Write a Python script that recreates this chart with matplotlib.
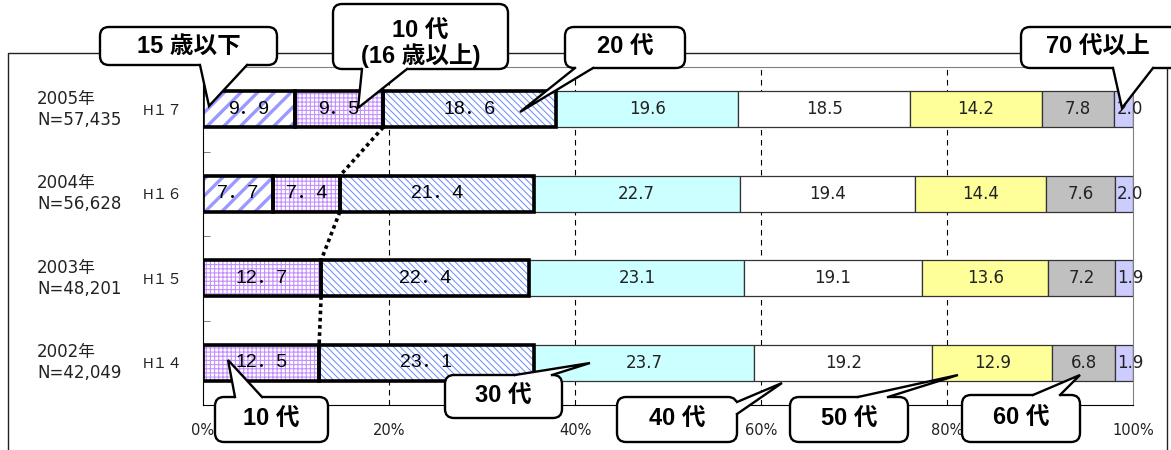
import matplotlib.pyplot as plt
import matplotlib.transforms as mtransforms
import numpy as np
from matplotlib.lines import Line2D
from matplotlib.patches import FancyBboxPatch, Polygon

plt.rcParams['font.family'] = ['Liberation Sans', 'Noto Sans CJK JP']
WIDE = ['DejaVu Sans', 'Noto Sans CJK JP']

years = ['2005年', '2004年', '2003年', '2002年']
counts = ['N=57,435', 'N=56,628', 'N=48,201', 'N=42,049']
era = ['H１７', 'H１６', 'H１５', 'H１４']

# share (%) per age group, rows 2005 -> 2002
under15 = [9.9, 7.7, 0.0, 0.0]
teens = [9.5, 7.4, 12.7, 12.5]
twenties = [18.6, 21.4, 22.4, 23.1]
thirties = [19.6, 22.7, 23.1, 23.7]
forties = [18.5, 19.4, 19.1, 19.2]
fifties = [14.2, 14.4, 13.6, 12.9]
sixties = [7.8, 7.6, 7.2, 6.8]
seventies = [2.0, 2.0, 1.9, 1.9]

vals = np.array([under15, teens, twenties, thirties, forties, fifties, sixties, seventies])
share = vals / vals.sum(axis=0) * 100   # 100% stacked
lefts = np.vstack([np.zeros(4), np.cumsum(share, axis=0)[:-1]])
ypos = np.array([3, 2, 1, 0])
h = 0.425

# face, hatch, hatch colour, hatch lw
styles = [
    ('white', '//', '#9999FF', 2.4),
    ('white', '++++', '#C490FF', 0.8),
    ('white', '\\\\\\\\\\', '#6688FF', 0.7),
    ('#CCFFFF', None, None, 0),
    ('white', None, None, 0),
    ('#FFFF99', None, None, 0),
    ('#C0C0C0', None, None, 0),
    ('#CCCCFF', None, None, 0),
]

W, H, DPI = 1171, 450, 100
fig = plt.figure(figsize=(W / DPI, H / DPI), dpi=DPI)
ax = fig.add_axes([203 / W, 1 - 405 / H, 930 / W, 338 / H])
pix = mtransforms.Affine2D().scale(1 / DPI).scale(1, -1).translate(0, H / DPI) + fig.dpi_scale_trans

ax.vlines([20, 40, 60, 80], -0.5, 3.5, colors='black', linestyles=(0, (5, 4)), lw=0.8, zorder=1)

for i, (face, hatch, hcol, hlw) in enumerate(styles):
    m = vals[i] > 0
    if hatch:
        with plt.rc_context({'hatch.linewidth': hlw}):
            bars = ax.barh(ypos[m], share[i][m], left=lefts[i][m], height=h, color=face,
                           edgecolor=hcol, hatch=hatch, linewidth=0, zorder=2)
        for b in bars:
            if hasattr(b, 'set_hatch_linewidth'):
                b.set_hatch_linewidth(hlw)
        ax.barh(ypos[m], share[i][m], left=lefts[i][m], height=h, fill=False,
                edgecolor='black', linewidth=2.6, zorder=3)
    else:
        ax.barh(ypos[m], share[i][m], left=lefts[i][m], height=h, color=face,
                edgecolor='#333333', linewidth=0.9, zorder=2)
    for j in np.where(m)[0]:
        v = vals[i][j]
        cx = lefts[i][j] + share[i][j] / 2
        if i < 3:
            ax.text(cx, ypos[j], f'{v:.1f}'.replace('.', '．'), ha='center', va='center',
                    fontsize=14, color='black', zorder=4)
        elif i == 7:
            ax.text(lefts[i][j] + 0.2, ypos[j], f'{v:.1f}', ha='left', va='center',
                    fontsize=12, color='#222222', zorder=4, family=WIDE)
        else:
            ax.text(cx, ypos[j], f'{v:.1f}', ha='center', va='center',
                    fontsize=12, color='#222222', zorder=4, family=WIDE)

# series line for the 10代 boundary
cum_teen = lefts[2]
for j in range(3):
    ax.plot([cum_teen[j], cum_teen[j + 1]], [ypos[j] - h / 2, ypos[j + 1] + h / 2],
            color='black', lw=2.6, ls=(0, (1, 1)), zorder=3)

ax.set_xlim(0, 100)
ax.set_ylim(-0.5, 3.5)
ax.set_xticks([0, 20, 40, 60, 80, 100], ['0%', '20%', '40%', '60%', '80%', '100%'])
ax.tick_params(axis='x', length=0, pad=13, labelsize=10.5, labelcolor='#222222')
for t in ax.get_xticklabels():
    t.set_family(WIDE)
ax.set_yticks(ypos, era)
ax.tick_params(axis='y', length=0, pad=15, labelsize=10.5, labelcolor='#222222')
ax.set_yticks([0.5, 1.5, 2.5], minor=True)
ax.tick_params(axis='y', which='minor', direction='in', length=5, color='#666666')
for s in ['top', 'right']:
    ax.spines[s].set_color('#808080')
for s in ['left', 'bottom']:
    ax.spines[s].set_color('black')

yr_tr = mtransforms.blended_transform_factory(ax.transAxes, ax.transData)
for j in range(4):
    ax.text((37 - 203) / 930, ypos[j], years[j] + '\n' + counts[j], transform=yr_tr,
            ha='left', va='center', fontsize=12, color='#222222', linespacing=1.2,
            family=WIDE)

# outer frame
fig.add_artist(Line2D([8, 8, 1167, 1167], [455, 53, 53, 455], color='#222222', lw=1,
                      transform=pix, zorder=1))


def callout(x0, y0, x1, y1, text, side, a, b, tip, tx=None, ty=None):
    fig.add_artist(FancyBboxPatch((x0, y0), x1 - x0, y1 - y0,
                                  boxstyle='round,pad=0,rounding_size=9', fc='white',
                                  ec='black', lw=1.7, transform=pix, zorder=6))
    if side == 'bottom':
        p1, p2, d = (a, y1), (b, y1), (0, -3)
    elif side == 'top':
        p1, p2, d = (a, y0), (b, y0), (0, 3)
    else:
        p1, p2, d = (x1, a), (x1, b), (-3, 0)
    fig.add_artist(Polygon([p1, tip, p2, (p2[0] + d[0], p2[1] + d[1]), (p1[0] + d[0], p1[1] + d[1])],
                           closed=True, fc='white', ec='none', transform=pix, zorder=7))
    fig.add_artist(Line2D([p1[0], tip[0], p2[0]], [p1[1], tip[1], p2[1]], color='black',
                          lw=1.7, transform=pix, zorder=8, solid_joinstyle='miter'))
    tx = (x0 + x1) / 2 if tx is None else tx
    ty = (y0 + y1) / 2 if ty is None else ty
    fig.text(tx, ty, text, transform=pix, ha='center', va='center', fontsize=17,
             fontweight='bold', zorder=9, linespacing=1.0)


callout(100, 27, 277, 65, '15 歳以下', 'bottom', 200, 247, (209, 106))
callout(333, 4, 508, 69, '10 代\n(16 歳以上)', 'bottom', 362, 407, (358, 108), ty=44)
callout(565, 27, 685, 68, '20 代', 'bottom', 575, 593, (520, 112))
callout(1021, 27, 1195, 68, '70 代以上', 'bottom', 1113, 1153, (1122, 108), tx=1098)
callout(215, 397, 328, 442, '10 代', 'top', 235, 262, (228, 360))
callout(445, 375, 562, 418, '30 代', 'top', 515, 552, (590, 363))
callout(617, 397, 737, 442, '40 代', 'right', 402, 414, (782, 383))
callout(790, 397, 908, 442, '50 代', 'top', 858, 888, (958, 375))
callout(962, 395, 1080, 442, '60 代', 'top', 1033, 1060, (1080, 375))

fig.savefig('out.png', dpi=DPI)
